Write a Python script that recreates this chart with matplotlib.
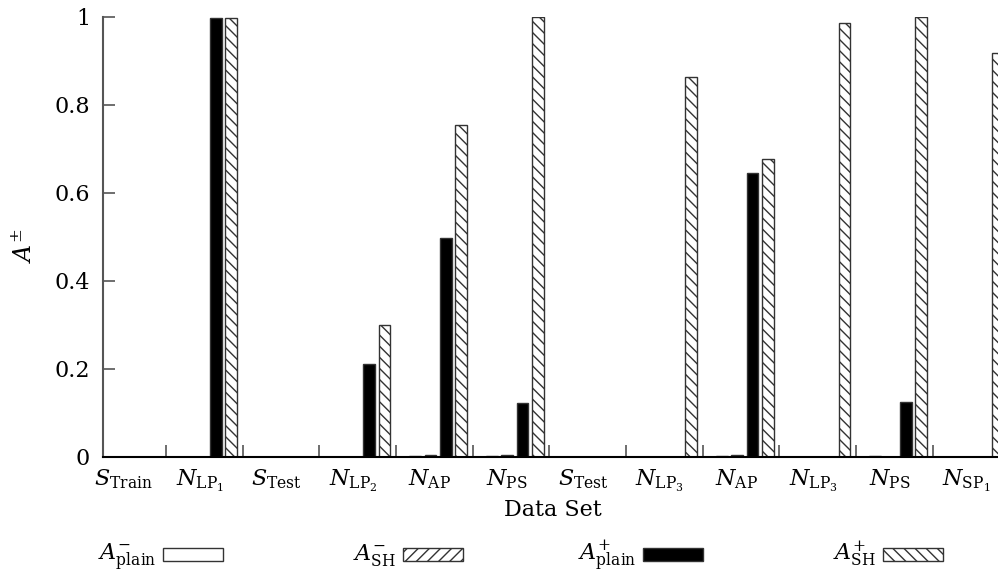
###############################################################################
### GROUPED BAR CHART OF A+/- PER DATA SET
###############################################################################

#------------------------------------------------------------------------------
### Import packages

import matplotlib
matplotlib.use('Agg')
import matplotlib.pyplot as plt
from matplotlib.patches import Rectangle
import numpy as np


#------------------------------------------------------------------------------
### Data

categories = [r'$S_{\mathrm{Train}}$', r'$N_{\mathrm{LP}_1}$',
	r'$S_{\mathrm{Test}}$', r'$N_{\mathrm{LP}_2}$', r'$N_{\mathrm{AP}}$',
	r'$N_{\mathrm{PS}}$', r'$S_{\mathrm{Test}}$', r'$N_{\mathrm{LP}_3}$',
	r'$N_{\mathrm{AP}}$', r'$N_{\mathrm{LP}_3}$', r'$N_{\mathrm{PS}}$',
	r'$N_{\mathrm{SP}_1}$']

a_minus_plain = [0, 0, 0, 0, 0.002, 0.002, 0, 0, 0.002, 0, 0.002, 0]
a_minus_sh = [0, 0, 0, 0, 0.004, 0.004, 0, 0, 0.004, 0, 0, 0]
a_plus_plain = [0, 0.998, 0, 0.21, 0.498, 0.122, 0, 0, 0.645, 0, 0.124, 0]
a_plus_sh = [0, 0.997, 0, 0.299, 0.753, 1.0, 0, 0.864, 0.677, 0.985, 1.0,
	0.917]

series_labels = [r'$A^{-}_{\mathrm{plain}}$', r'$A^{-}_{\mathrm{SH}}$',
	r'$A^{+}_{\mathrm{plain}}$', r'$A^{+}_{\mathrm{SH}}$']

y_ticks = [0, 0.2, 0.4, 0.6, 0.8, 1]
y_tick_labels = ['0', '0.2', '0.4', '0.6', '0.8', '1']


#------------------------------------------------------------------------------
### Declare constants etc.

FIG_W, FIG_H, DPI = 9.98, 5.76, 100
FONTSIZE = 16
BAR_WIDTH = 0.153
OFFSETS = [-0.3, -0.1, 0.1, 0.3]
FACES = ['white', 'white', 'black', 'white']
HATCHES = [None, '///', None, '\\\\\\']
EDGE = '#333333'
AXIS_GRAY = '#555555'

plt.rcParams['font.family'] = 'DejaVu Serif'
plt.rcParams['mathtext.fontset'] = 'dejavuserif'
plt.rcParams['hatch.linewidth'] = 1.0
plt.rcParams['font.size'] = FONTSIZE


#------------------------------------------------------------------------------
### Figure

fig = plt.figure(figsize=(FIG_W, FIG_H), dpi=DPI)

# pixel helpers (origin top-left, like the reference picture)
def fx(px):
	return px / (FIG_W * DPI)

def fy(py):
	return 1 - py / (FIG_H * DPI)

ax = fig.add_axes([fx(102.7), fy(456.7), 1 - fx(102.7), fy(16.7) - fy(456.7)])

x = np.arange(len(categories))
all_series = [a_minus_plain, a_minus_sh, a_plus_plain, a_plus_sh]

for vals, off, face, hatch, lab in zip(all_series, OFFSETS, FACES, HATCHES,
		series_labels):
	ax.bar(x + off, vals, BAR_WIDTH, color=face, edgecolor=EDGE,
		linewidth=1.0, hatch=hatch, label=lab)

ax.set_xlim(-0.376, 11.302)
ax.set_ylim(0, 1)

# Spines
for side in ['top', 'right']:
	ax.spines[side].set_visible(False)
ax.spines['left'].set_color(AXIS_GRAY)
ax.spines['left'].set_linewidth(1.5)
ax.spines['bottom'].set_color('black')
ax.spines['bottom'].set_linewidth(1.5)

# Y axis
ax.set_yticks(y_ticks)
ax.set_yticklabels(y_tick_labels)
ax.tick_params(axis='y', direction='in', length=8.6, width=1.2,
	color=AXIS_GRAY, pad=9)

# X axis: labels at group centres, separator ticks between groups
ax.set_xticks(x - 0.11)
ax.set_xticklabels(categories)
ax.set_xticks(x[1:] - 0.55, minor=True)
ax.tick_params(axis='x', which='major', length=0, pad=8)
ax.tick_params(axis='x', which='minor', direction='in', length=8.6,
	width=1.2, color=AXIS_GRAY)

ax.set_xlabel('Data Set')
ax.xaxis.set_label_coords(0.503, -0.095)
ax.set_ylabel(r'$A^{\pm}$', fontsize=17)
ax.yaxis.set_label_coords(-0.074, 0.479)

# Legend row below the plot (text to the left of each key)
for k, (face, hatch, lab) in enumerate(zip(FACES, HATCHES, series_labels)):
	right = 223 + 240 * k
	box = Rectangle((fx(right - 60), fy(561)), fx(60), fy(548) - fy(561),
		transform=fig.transFigure, facecolor=face, edgecolor=EDGE,
		linewidth=1.0, hatch=hatch)
	fig.add_artist(box)
	fig.text(fx(right - 67), fy(560), lab, ha='right', va='baseline')

fig.savefig('out.png', dpi=DPI)
plt.close()
